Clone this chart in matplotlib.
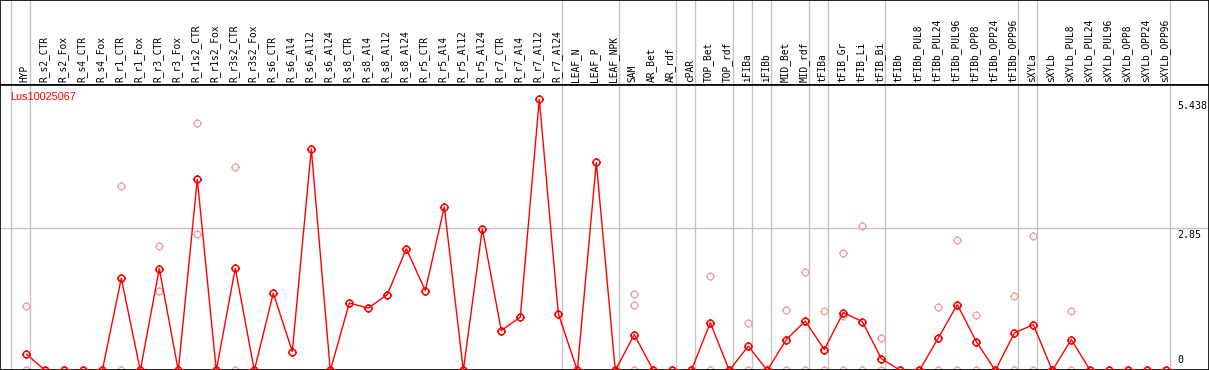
import numpy as np
import matplotlib
matplotlib.use("Agg")
import matplotlib.pyplot as plt
from matplotlib.path import Path

nan = np.nan

gene = "Lus10025067"

samples = ["HYP",
           "R_s2_CTR", "R_s2_Fox", "R_s4_CTR", "R_s4_Fox", "R_r1_CTR", "R_r1_Fox",
           "R_r3_CTR", "R_r3_Fox", "R_r1s2_CTR", "R_r1s2_Fox", "R_r3s2_CTR", "R_r3s2_Fox",
           "R_s6_CTR", "R_s6_Al4", "R_s6_Al12", "R_s6_Al24", "R_s8_CTR", "R_s8_Al4",
           "R_s8_Al12", "R_s8_Al24", "R_r5_CTR", "R_r5_Al4", "R_r5_Al12", "R_r5_Al24",
           "R_r7_CTR", "R_r7_Al4", "R_r7_Al12", "R_r7_Al24",
           "LEAF_N", "LEAF_P", "LEAF_NPK",
           "SAM", "AR_Bet", "AR_rdf",
           "cPAR",
           "TOP_Bet", "TOP_rdf",
           "iFIBa",
           "iFIBb",
           "MID_Bet", "MID_rdf",
           "tFIBa",
           "tFIB_Gr", "tFIB_Li", "tFIB_Bi",
           "tFIBb", "tFIBb_PUL8", "tFIBb_PUL24", "tFIBb_PUL96", "tFIBb_OPP8",
           "tFIBb_OPP24", "tFIBb_OPP96",
           "sXYLa",
           "sXYLb", "sXYLb_PUL8", "sXYLb_PUL24", "sXYLb_PUL96", "sXYLb_OPP8",
           "sXYLb_OPP24", "sXYLb_OPP96"]

# index of the last sample in each group (separator lines)
group_ends = [-1, 0, 28, 31, 34, 35, 37, 38, 39, 41, 42, 45, 52, 53, 60]

# mean expression (red line)
means = [0.33,
         0, 0, 0, 0, 1.85, 0, 2.04, 0, 3.83, 0, 2.05, 0,
         1.55, 0.38, 4.44, 0, 1.35, 1.25, 1.52, 2.44, 1.60, 3.28, 0, 2.84,
         0.80, 1.07, 5.438, 1.14,
         0, 4.17, 0,
         0.72, 0, 0,
         0,
         0.96, 0,
         0.49,
         0,
         0.62, 0.99,
         0.42,
         1.16, 0.98, 0.24,
         0, 0, 0.65, 1.32, 0.58, 0, 0.75,
         0.92,
         0, 0.62, 0, 0, 0, 0, 0]

# individual replicates (pink circles)
rep_hi = [1.30,
          nan, nan, nan, nan, 3.69, nan, 2.50, nan, 4.95, nan, 4.08, nan,
          nan, nan, nan, nan, nan, nan, nan, nan, nan, nan, nan, nan,
          nan, nan, nan, nan,
          nan, nan, nan,
          1.54, nan, nan,
          nan,
          1.90, nan,
          0.96,
          nan,
          1.21, 1.97,
          1.19,
          2.35, 2.90, 0.65,
          nan, nan, 1.27, 2.62, 1.12, nan, 1.50,
          2.70,
          nan, 1.19, nan, nan, nan, nan, nan]

rep_mid = [nan,
           nan, nan, nan, nan, nan, nan, 1.60, nan, 2.73, nan, nan, nan,
           nan, nan, nan, nan, nan, nan, nan, nan, nan, nan, nan, nan,
           nan, nan, nan, nan,
           nan, nan, nan,
           1.32, nan, nan,
           nan,
           nan, nan,
           nan,
           nan,
           nan, nan,
           nan,
           1.09, nan, nan,
           nan, nan, nan, nan, nan, nan, nan,
           nan,
           nan, nan, nan, nan, nan, nan, nan]

rep_lo = [0,
          0, 0, 0, 0, 0, 0, nan, 0, nan, 0, 0, 0,
          nan, nan, nan, 0, nan, nan, nan, nan, nan, nan, 0, nan,
          nan, nan, nan, nan,
          0, nan, 0,
          0, 0, 0,
          0,
          0, 0,
          0,
          0,
          0, 0,
          0,
          0, 0, 0,
          0, 0, 0, 0, 0, 0, 0,
          0,
          0, 0, 0, 0, 0, 0, 0]

y_ticks = [5.438, 2.85, 0]

red = "#ff0000"
pink = "#f0a0a0"
grey = "#c4c4c4"
mono = "DejaVu Sans Mono"

# circle marker with four small ticks
circle = Path.unit_circle()
tick_verts = [(0, 1), (0, 1.35), (0, -1), (0, -1.35),
              (1, 0), (1.35, 0), (-1, 0), (-1.35, 0)]
tick_codes = [Path.MOVETO, Path.LINETO] * 4
marker = Path.make_compound_path(circle, Path(tick_verts, tick_codes))

W, H = 1209, 370
head_px = 85
fig = plt.figure(figsize=(W / 100, H / 100), dpi=100)
fig.patch.set_facecolor("white")

x = np.arange(len(samples))
step = 19.0
x0_px = 26.3
xlim = (-x0_px / step, (W - 0.5 - x0_px) / step)

ax_h = fig.add_axes([0, (H - head_px) / H, (W - 0.5) / W, head_px / H])
ax = fig.add_axes([0, 0, (W - 0.5) / W, (H - head_px) / H])

for a in (ax_h, ax):
    a.set_xlim(*xlim)
    a.set_xticks([])
    a.set_yticks([])
    for s in a.spines.values():
        s.set_color("black")
        s.set_linewidth(1.2)
    for g in group_ends:
        a.axvline(g + 0.2, color=grey, lw=1.0, zorder=0)

ax_h.set_ylim(0, head_px)
for xi, name in zip(x, samples):
    ax_h.text(xi - 0.08, 2.5, name, rotation=90, ha="center", va="bottom",
              family=mono, fontsize=6.9, color="black")

ymax = max(means) * 1.052
ax.set_ylim(0.01, ymax)
ax.axhline(y_ticks[1], color=grey, lw=1.0, zorder=0)

mk = dict(marker=marker, markersize=6.5, markerfacecolor="none",
          linestyle="none", clip_on=False)
for reps in (rep_hi, rep_mid, rep_lo):
    ax.plot(x, reps, markeredgecolor=pink, markeredgewidth=0.9, zorder=2, **mk)

ax.plot(x, means, color=red, lw=1.0, zorder=3, clip_on=False)
ax.plot(x, means, markeredgecolor=red, markeredgewidth=1.1, zorder=4, **mk)

ax.text(10 / (W - 0.5), 1 - 12 / (H - head_px), gene, transform=ax.transAxes,
        ha="left", va="center", color=red, family="Liberation Sans", fontsize=7.8)

lab_x = len(samples) - 1 + 0.6
for v in y_ticks:
    if v == 0:
        ax.annotate("0", xy=(lab_x, v), xytext=(0, 5), textcoords="offset pixels",
                    ha="left", va="bottom", family=mono, fontsize=7.2)
    else:
        ax.annotate(f"{v:g}", xy=(lab_x, v), xytext=(0, -2), textcoords="offset pixels",
                    ha="left", va="top", family=mono, fontsize=7.2)

fig.savefig("out.png", dpi=100, facecolor="white")
